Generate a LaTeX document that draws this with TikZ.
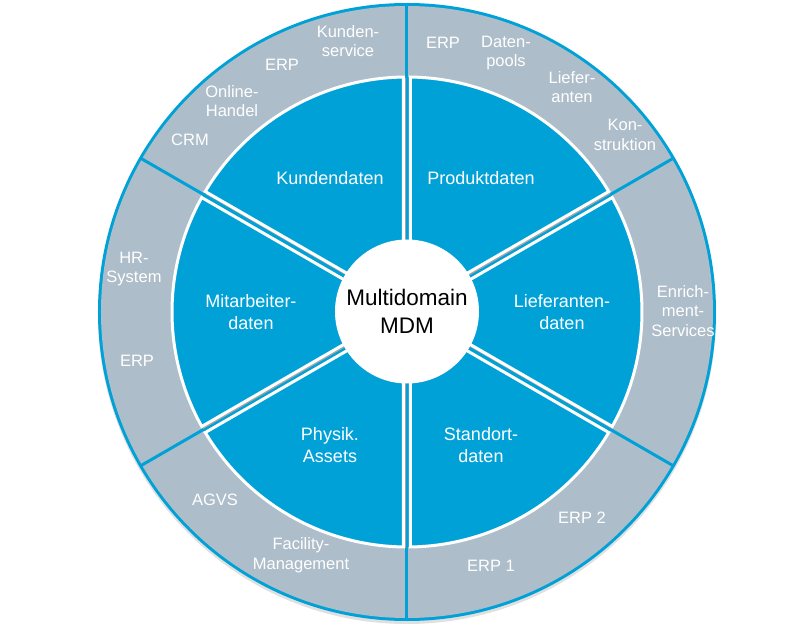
\documentclass[tikz,border=0pt]{standalone}
\usepackage{fontspec}
\setmainfont{Liberation Sans}
\definecolor{mblue}{RGB}{0,161,215}
\definecolor{mgray}{RGB}{174,189,202}
\begin{document}
\begin{tikzpicture}[x=1pt,y=1pt,
  ring/.style={text=white,font=\fontsize{16.5}{19.5}\selectfont,align=center,inner sep=0pt},
  sect/.style={text=white,font=\fontsize{18}{22}\selectfont,align=center,inner sep=0pt},
  wedge/.style={fill=mblue,draw=white,line width=3pt,line join=miter},
  wshadow/.style={draw=black!35,line width=3pt}]
\useasboundingbox (-407,-323) rectangle (405,312);
% outer disc with soft shadow
\fill[black!12] (0,-3) circle[radius=309];
\fill[mblue] (0,0) circle[radius=309];
\fill[mgray,even odd rule] (0,0) circle[radius=306] (0,0) circle[radius=235];
\foreach \a in {30,90,...,330} \draw[mblue,line width=3pt] (0,0) -- (\a:307);
% inner wedges
\pgfmathsetmacro\da{asin(3.5/235)}
\foreach \a in {30,90,...,330} {
  \draw[wshadow,shift={(0.8,-1.2)}] ({\a+\da}:235) -- ({\a+30}:7) -- ({\a+60-\da}:235);
  \path[wedge] ({\a+30}:7) -- ({\a+\da}:235) arc[start angle=\a+\da,end angle=\a+60-\da,radius=235] -- cycle;
}
% centre
\node[circle,fill=white,minimum size=144pt,inner sep=0pt,align=center,
      font=\fontsize{22.5}{28}\selectfont] (mdm) at (0,0.5) {Multidomain\\MDM};
% domain labels
\node[sect] (kd) at (-77,134) {Kundendaten};
\node[sect] (pd) at (74,134) {Produktdaten};
\node[sect] (ma) at (-156,0) {Mitarbeiter-\\daten};
\node[sect] (ld) at (155,0) {Lieferanten-\\daten};
\node[sect] (pa) at (-77,-133) {Physik.\\Assets};
\node[sect] (sd) at (74,-133) {Standort-\\daten};
% ring labels
\node[ring] (ks) at (-59,271) {Kunden-\\service};
\node[ring] (erpa) at (-125,247) {ERP};
\node[ring] (oh) at (-175,211) {Online-\\Handel};
\node[ring] (crm) at (-217,172) {CRM};
\node[ring] (erpb) at (36,269) {ERP};
\node[ring] (dp) at (99,259) {Daten-\\pools};
\node[ring] (la) at (165,225) {Liefer-\\anten};
\node[ring] (ko) at (218,177) {Kon-\\struktion};
\node[ring] (en) at (276,1) {Enrich-\\ment-\\Services};
\node[ring] (hr) at (-273,43) {HR-\\System};
\node[ring] (erpc) at (-270,-49) {ERP};
\node[ring] (agvs) at (-192,-188) {AGVS};
\node[ring] (fm) at (-106,-243) {Facility-\\Management};
\node[ring] (erp2) at (175,-206) {ERP 2};
\node[ring] (erp1) at (84,-254) {ERP 1};
\end{tikzpicture}
\end{document}
